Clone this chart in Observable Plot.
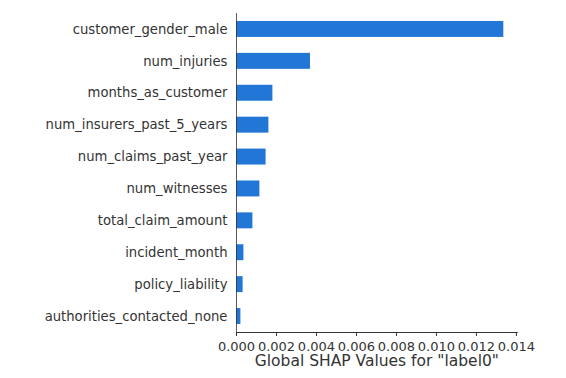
<!DOCTYPE html>
<html><head><meta charset="utf-8">
<script src="https://cdn.jsdelivr.net/npm/d3@7"></script>
<script src="https://cdn.jsdelivr.net/npm/@observablehq/plot@0.6"></script>
<style>body{margin:0;background:#fff;} svg{font-family:"DejaVu Sans";}</style>
</head><body><div id="chart"></div>
<script>
const features = ["customer_gender_male","num_injuries","months_as_customer","num_insurers_past_5_years","num_claims_past_year","num_witnesses","total_claim_amount","incident_month","policy_liability","authorities_contacted_none"];
const values = [0.01337,0.0037,0.00182,0.00162,0.00148,0.00117,0.00082,0.00037,0.00033,0.00022];
const xTicks = [0,0.002,0.004,0.006,0.008,0.010,0.012,0.014];
const xTitle = 'Global SHAP Values for "label0"';
const data = features.map((f,i)=>({feature:f, value:values[i]}));
const chart = Plot.plot({
  width:566, height:378,
  marginLeft:236, marginRight:49.3, marginTop:13, marginBottom:46,
  style:{fontFamily:"DejaVu Sans", color:"#333333", background:"#fff"},
  x:{domain:[0,0.01404], ticks:xTicks, tickFormat:d3.format(".3f"), label:null},
  y:{domain:features, paddingInner:0.5, paddingOuter:0.25, round:false, label:null},
  marks:[
    Plot.barX(data,{x:"value", y:"feature", fill:"#2176d6"}),
    Plot.frame({anchor:"left", stroke:"#333333", strokeOpacity:0.8}),
    Plot.frame({anchor:"bottom", stroke:"#333333"}),
    Plot.axisY({tickSize:0, tickPadding:9, fontSize:13.2, label:null}),
    Plot.axisX({ticks:xTicks, tickFormat:d3.format(".3f"), tickSize:4, tickPadding:5, fontSize:13, label:null}),
    Plot.text([xTitle],{text:d=>d, frameAnchor:"bottom", dy:33.7, fontSize:15.5, fill:"#333333"})
  ]
});
document.getElementById("chart").appendChild(chart);
</script></body></html>
